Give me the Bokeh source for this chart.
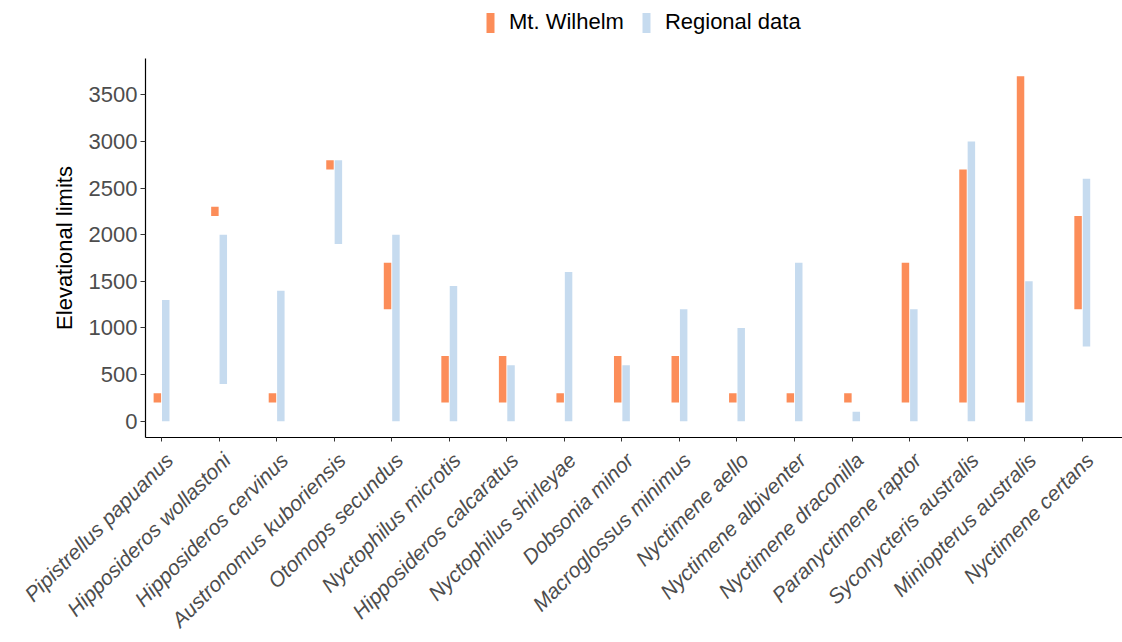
import math
from bokeh.plotting import figure
from bokeh.layouts import column
from bokeh.models import ColumnDataSource, FixedTicker, Range1d, Legend, LegendItem
from bokeh.transform import dodge
from bokeh.embed import file_html
from bokeh.resources import INLINE

# Bat species surveyed along the elevational gradient
species = [
    "Pipistrellus papuanus", "Hipposideros wollastoni", "Hipposideros cervinus",
    "Austronomus kuboriensis", "Otomops secundus", "Nyctophilus microtis",
    "Hipposideros calcaratus", "Nyctophilus shirleyae", "Dobsonia minor",
    "Macroglossus minimus", "Nyctimene aello", "Nyctimene albiventer",
    "Nyctimene draconilla", "Paranyctimene raptor", "Syconycteris australis",
    "Miniopterus australis", "Nyctimene certans",
]

# Elevational limits (m) recorded on Mt. Wilhelm
wilhelm_low = [200, 2200, 200, 2700, 1200, 200, 200, 200, 200, 200, 200, 200, 200, 200, 200, 200, 1200]
wilhelm_high = [300, 2300, 300, 2800, 1700, 700, 700, 300, 700, 700, 300, 300, 300, 1700, 2700, 3700, 2200]

# Elevational limits (m) from regional records
regional_low = [0, 400, 0, 1900, 0, 0, 0, 0, 0, 0, 0, 0, 0, 0, 0, 0, 800]
regional_high = [1300, 2000, 1400, 2800, 2000, 1450, 600, 1600, 600, 1200, 1000, 1700, 100, 1200, 3000, 1500, 2600]

y_ticks = [0, 500, 1000, 1500, 2000, 2500, 3000, 3500]

ORANGE = "#FC8D59"
BLUE = "#C6DBEF"
FONT = "Liberation Sans"
TEXT_GREY = "#4D4D4D"

pos = list(range(1, len(species) + 1))
src = ColumnDataSource(dict(
    pos=pos,
    w_lo=wilhelm_low, w_hi=wilhelm_high,
    r_lo=regional_low, r_hi=regional_high,
))

# ---- main panel -------------------------------------------------------
p = figure(
    width=1122, height=584,
    output_backend="svg", toolbar_location=None,
    x_range=Range1d(0.722, 17.70), y_range=Range1d(-175, 3890),
    min_border_left=145, min_border_right=0,
    min_border_top=0, min_border_bottom=205,
)
p.outline_line_color = None
p.background_fill_color = "white"
p.border_fill_color = "white"
p.xgrid.visible = False
p.ygrid.visible = False

p.vbar(x=dodge("pos", -0.072, range=p.x_range), width=0.13,
       bottom="w_lo", top="w_hi", source=src,
       fill_color=ORANGE, line_color=None)
p.vbar(x=dodge("pos", 0.074, range=p.x_range), width=0.13,
       bottom="r_lo", top="r_hi", source=src,
       fill_color=BLUE, line_color=None)

# x axis: tick marks sit on the species positions (drawn as minor ticks),
# the rotated names hang just to the right of them (major ticks, hidden)
label_shift = 0.135
label_pos = [x + label_shift for x in pos]
xa = p.xaxis[0]
xa.ticker = FixedTicker(ticks=label_pos, minor_ticks=pos)
xa.major_label_overrides = {lp: s for lp, s in zip(label_pos, species)}
xa.major_label_orientation = math.pi / 4
xa.major_label_text_font = FONT
xa.major_label_text_font_style = "italic"
xa.major_label_text_font_size = "21px"
xa.major_label_text_color = TEXT_GREY
xa.major_label_standoff = 15
xa.axis_line_color = "black"
xa.axis_line_width = 1.2
xa.major_tick_line_color = None
xa.major_tick_in = 0
xa.major_tick_out = 0
xa.minor_tick_line_color = "#333333"
xa.minor_tick_line_width = 1
xa.minor_tick_in = 0
xa.minor_tick_out = 4

# y axis
ya = p.yaxis[0]
ya.ticker = FixedTicker(ticks=y_ticks)
ya.axis_label = "Elevational limits"
ya.axis_label_text_font = FONT
ya.axis_label_text_font_style = "normal"
ya.axis_label_text_font_size = "22px"
ya.axis_label_text_color = "black"
ya.axis_label_standoff = 9
ya.major_label_text_font = FONT
ya.major_label_text_font_size = "22px"
ya.major_label_text_color = TEXT_GREY
ya.axis_line_color = "black"
ya.axis_line_width = 1.2
ya.major_tick_line_color = "#333333"
ya.major_tick_in = 0
ya.major_tick_out = 5
ya.minor_tick_line_color = None
ya.major_label_standoff = 3

# ---- legend strip above the panel ------------------------------------
lg = figure(
    width=1122, height=58,
    output_backend="svg", toolbar_location=None,
    x_range=Range1d(0, 1), y_range=Range1d(0, 1),
    x_axis_type=None, y_axis_type=None,
    min_border=0,
)
lg.outline_line_color = None
lg.xgrid.visible = False
lg.ygrid.visible = False
# key renderers: their bars lie outside this strip's ranges, only the keys show
key_w = lg.vbar(x=[5], bottom=[5], top=[6], width=0.1, fill_color=ORANGE, line_color=None)
key_r = lg.vbar(x=[5], bottom=[5], top=[6], width=0.1, fill_color=BLUE, line_color=None)

legend = Legend(
    items=[LegendItem(label="Mt. Wilhelm", renderers=[key_w]),
           LegendItem(label="Regional data", renderers=[key_r])],
    orientation="horizontal",
    location=(340, 23),
    glyph_width=10, glyph_height=25,
    label_standoff=14, spacing=17,
    padding=0, margin=0,
    label_text_font=FONT, label_text_font_size="22px", label_text_color="black",
    border_line_color=None, background_fill_alpha=0,
)
lg.add_layout(legend, "center")

page = column(lg, p, spacing=0)
open("out.html", "w").write(file_html(page, INLINE))
